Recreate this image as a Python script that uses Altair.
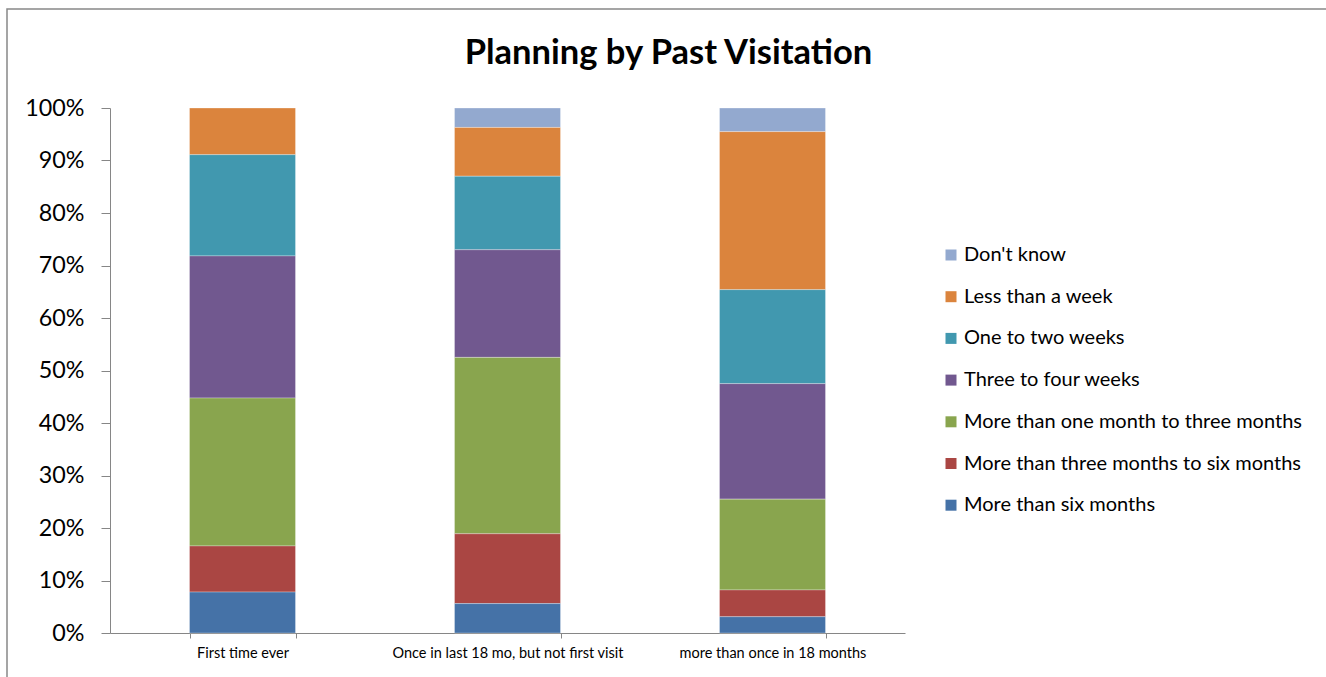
import altair as alt
import pandas as pd

categories = ["First time ever", "Once in last 18 mo, but not first visit", "more than once in 18 months"]
series = ["Don't know", "Less than a week", "One to two weeks", "Three to four weeks",
          "More than one month to three months", "More than three months to six months",
          "More than six months"]
colors = ["#93A9CF", "#DB843D", "#4198AF", "#71588F", "#89A54E", "#AA4643", "#4572A7"]

# percent values per series, in category order
dont_know = [0.0, 3.7, 4.5]
less_week = [8.9, 9.3, 30.1]
one_two_weeks = [19.3, 14.0, 17.9]
three_four_weeks = [27.1, 20.5, 22.0]
one_three_months = [28.2, 33.6, 17.3]
three_six_months = [8.8, 13.3, 5.1]
six_months = [7.8, 5.6, 3.1]

values = [dont_know, less_week, one_two_weeks, three_four_weeks,
          one_three_months, three_six_months, six_months]

rows = []
for si, (s, vals) in enumerate(zip(series, values)):
    for c, v in zip(categories, vals):
        rows.append({"cat": c, "series": s, "value": v, "stackorder": len(series) - si})
df = pd.DataFrame(rows)

FONT = "Lato"

bars = alt.Chart(df).mark_bar(stroke="white", strokeWidth=0.6, strokeOpacity=0.5).encode(
    x=alt.X("cat:N", sort=categories, title=None,
            scale=alt.Scale(paddingInner=0.6, paddingOuter=0.3),
            axis=alt.Axis(labelAngle=0, labelFontSize=14.5, labelColor="black", labelFont=FONT,
                          domainColor="#868686", tickColor="#868686", tickSize=5,
                          tickBand="extent", labelPadding=8, labelLimit=400)),
    y=alt.Y("value:Q", stack="normalize", title=None,
            scale=alt.Scale(domain=[0, 1], nice=False),
            axis=alt.Axis(format="%", values=[i / 10 for i in range(11)], grid=False,
                          labelFontSize=23.3, labelColor="black", labelFont=FONT,
                          domainColor="#868686", tickColor="#868686", tickSize=9,
                          labelPadding=17)),
    color=alt.Color("series:N", scale=alt.Scale(domain=series, range=colors),
                    legend=alt.Legend(title=None, orient="none", legendX=831, legendY=137,
                                      symbolType="square", symbolSize=121, symbolStrokeWidth=0,
                                      labelFontSize=20, labelFont=FONT, labelColor="black",
                                      rowPadding=21.7, labelOffset=3, padding=0, labelLimit=500)),
    order=alt.Order("stackorder:Q", sort="ascending"),
)

frame = alt.Chart(alt.Data(values=[{}])).mark_rect(fill=None, stroke="#888888", strokeWidth=1.5).encode(
    x=alt.value(-103), x2=alt.value(1230), y=alt.value(-99), y2=alt.value(600)
)

chart = alt.layer(frame, bars).properties(
    width=795, height=525,
    padding={"left": 110, "top": 108, "right": 421, "bottom": 44},
    autosize=alt.AutoSizeParams(type="none"),
    title=alt.TitleParams("Planning by Past Visitation", fontSize=34.5, font=FONT, fontWeight="bold",
                          color="black", anchor="middle", dx=161, offset=0, dy=90,
                          baseline="alphabetic"),
).configure_view(stroke=None)

chart.save("out.html", embed_options={"renderer": "svg", "actions": False})
